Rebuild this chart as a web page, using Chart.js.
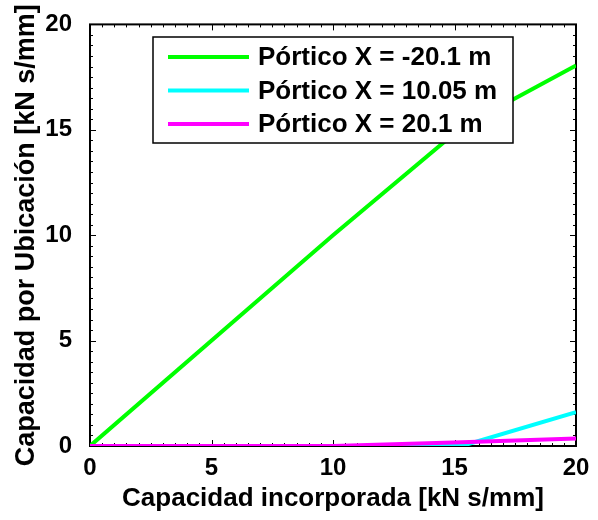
<!DOCTYPE html>
<html>
<head>
<meta charset="utf-8">
<script src="https://cdn.jsdelivr.net/npm/chart.js@4/dist/chart.umd.min.js"></script>
<style>
  html, body { margin: 0; padding: 0; background: #fff; }
  #caja { width: 598px; height: 520px; }
</style>
</head>
<body>
<div id="caja"><canvas id="grafico" width="598" height="520"></canvas></div>
<script>
// capacidad incorporada (eje x) y capacidad repartida en cada pórtico
var capIncorporada = [0, 10, 15.3, 20];
var porticoMenos20 = [0, 10, 15.12, 18.05];
var portico1005 = [0, 0, 0, 1.6];
var portico201 = [0, 0, 0.18, 0.35];

var nombres = ["Pórtico X = -20.1 m", "Pórtico X = 10.05 m", "Pórtico X = 20.1 m"];
var colores = ["#00ff00", "#00ffff", "#ff00ff"];
var ticksEje = [0, 5, 10, 15, 20];

var fuente = "'Liberation Sans', Arial, sans-serif";

function puntos(ys) {
  var arr = [];
  for (var i = 0; i < capIncorporada.length; i++) {
    arr[i] = { x: capIncorporada[i], y: ys[i] };
  }
  return arr;
}

// caja de ejes con marcas hacia adentro (mayores cada 5, menores cada 0.5)
var marcoEjes = {
  id: "marcoEjes",
  beforeDatasetsDraw: function (chart) {
    var ctx = chart.ctx;
    var a = chart.chartArea;
    var sx = chart.scales.x, sy = chart.scales.y;
    ctx.save();
    ctx.strokeStyle = "#000";
    ctx.lineWidth = 1;
    for (var v = 0; v <= 20.001; v += 0.5) {
      var largo = (v % 5 === 0) ? 6 : 3;
      var px = Math.round(sx.getPixelForValue(v)) + 0.5;
      var py = Math.round(sy.getPixelForValue(v)) + 0.5;
      ctx.beginPath();
      ctx.moveTo(px, a.bottom); ctx.lineTo(px, a.bottom - largo);
      ctx.moveTo(px, a.top); ctx.lineTo(px, a.top + largo);
      ctx.moveTo(a.left, py); ctx.lineTo(a.left + largo, py);
      ctx.moveTo(a.right, py); ctx.lineTo(a.right - largo, py);
      ctx.stroke();
    }
    ctx.lineWidth = 2;
    ctx.strokeRect(a.left, a.top, a.right - a.left, a.bottom - a.top);
    ctx.restore();
  },
  afterDraw: function (chart) {
    var ctx = chart.ctx;
    var x0 = 153, y0 = 37, ancho = 360, alto = 106;
    ctx.save();
    ctx.fillStyle = "#fff";
    ctx.fillRect(x0, y0, ancho, alto);
    ctx.strokeStyle = "#000";
    ctx.lineWidth = 1.5;
    ctx.strokeRect(x0, y0, ancho, alto);
    ctx.font = "bold 26px " + fuente;
    ctx.textBaseline = "middle";
    ctx.fillStyle = "#000";
    for (var i = 0; i < nombres.length; i++) {
      var y = 57 + i * 33.5;
      ctx.strokeStyle = colores[i];
      ctx.lineWidth = 4;
      ctx.beginPath();
      ctx.moveTo(168, y); ctx.lineTo(249, y);
      ctx.stroke();
      ctx.fillText(nombres[i], 258, y + 1);
    }
    ctx.restore();
  }
};

new Chart(document.getElementById("grafico"), {
  type: "line",
  data: {
    datasets: [
      { label: nombres[2], data: puntos(portico201), borderColor: colores[2], order: 0 },
      { label: nombres[1], data: puntos(portico1005), borderColor: colores[1], order: 1 },
      { label: nombres[0], data: puntos(porticoMenos20), borderColor: colores[0], order: 2 }
    ]
  },
  options: {
    responsive: false,
    animation: false,
    layout: { padding: { top: 22, right: 22, left: 0, bottom: 0 } },
    elements: {
      line: { borderWidth: 4, tension: 0, borderCapStyle: "butt" },
      point: { radius: 0 }
    },
    plugins: {
      legend: { display: false },
      tooltip: { enabled: false }
    },
    scales: {
      x: {
        type: "linear",
        min: 0,
        max: 20,
        afterFit: function (s) { s.height = 74; },
        afterBuildTicks: function (s) { s.ticks = ticksEje.map(function (v) { return { value: v }; }); },
        grid: { display: false },
        border: { display: false },
        ticks: { color: "#000", padding: 1, maxRotation: 0, font: { family: fuente, size: 24, weight: "bold", lineHeight: 1.1 } },
        title: {
          display: true,
          text: "Capacidad incorporada [kN s/mm]",
          color: "#000",
          padding: { top: 0, bottom: 6 },
          font: { family: fuente, size: 26, weight: "bold" }
        }
      },
      y: {
        type: "linear",
        min: 0,
        max: 20,
        afterFit: function (s) { s.width = 90; },
        afterBuildTicks: function (s) { s.ticks = ticksEje.map(function (v) { return { value: v }; }); },
        grid: { display: false },
        border: { display: false },
        ticks: { color: "#000", padding: 10, font: { family: fuente, size: 24, weight: "bold" } },
        title: {
          display: true,
          text: "Capacidad por Ubicación [kN s/mm]",
          color: "#000",
          padding: { top: 10, bottom: 0 },
          font: { family: fuente, size: 27, weight: "bold" }
        }
      }
    }
  },
  plugins: [marcoEjes]
});
</script>
</body>
</html>
